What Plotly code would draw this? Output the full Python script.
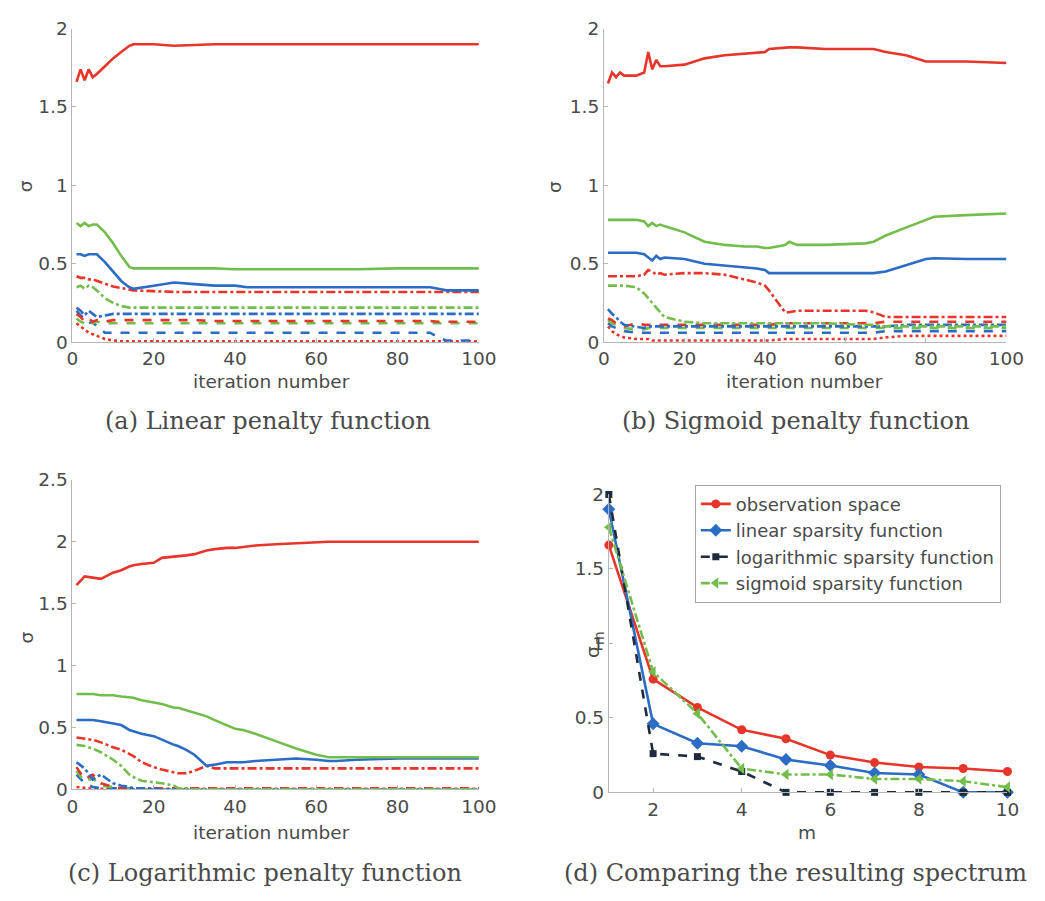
import plotly.graph_objects as go

# ---------------- data ----------------
# (a) Linear penalty function
a_iter = [1, 2, 3, 4, 5, 6, 8, 10, 12, 14, 15, 20, 25, 30, 35, 40, 43, 50, 60, 70, 80, 88, 90, 92, 100]
a_s1 = [1.66, 1.74, 1.67, 1.74, 1.69, 1.71, 1.76, 1.81, 1.85, 1.89, 1.90, 1.90, 1.89, 1.895, 1.90, 1.90, 1.90, 1.90, 1.90, 1.90, 1.90, 1.90, 1.90, 1.90, 1.90]
a_s2 = [0.76, 0.74, 0.76, 0.74, 0.75, 0.75, 0.70, 0.63, 0.55, 0.48, 0.47, 0.47, 0.47, 0.47, 0.47, 0.465, 0.465, 0.465, 0.465, 0.465, 0.47, 0.47, 0.47, 0.47, 0.47]
a_s3 = [0.56, 0.56, 0.55, 0.56, 0.56, 0.56, 0.51, 0.45, 0.39, 0.35, 0.34, 0.36, 0.38, 0.37, 0.36, 0.36, 0.35, 0.35, 0.35, 0.35, 0.35, 0.35, 0.34, 0.33, 0.33]
a_s4 = [0.42, 0.41, 0.41, 0.40, 0.40, 0.39, 0.37, 0.355, 0.345, 0.335, 0.33, 0.325, 0.32, 0.32, 0.32, 0.32, 0.32, 0.32, 0.32, 0.32, 0.32, 0.32, 0.32, 0.32, 0.32]
a_s5 = [0.35, 0.36, 0.34, 0.36, 0.35, 0.33, 0.28, 0.25, 0.23, 0.22, 0.22, 0.22, 0.22, 0.22, 0.22, 0.22, 0.22, 0.22, 0.22, 0.22, 0.22, 0.22, 0.22, 0.22, 0.22]
a_s6 = [0.22, 0.20, 0.17, 0.20, 0.18, 0.16, 0.17, 0.18, 0.18, 0.18, 0.18, 0.18, 0.18, 0.18, 0.18, 0.18, 0.18, 0.18, 0.18, 0.18, 0.18, 0.18, 0.18, 0.18, 0.18]
a_s7 = [0.18, 0.16, 0.13, 0.15, 0.13, 0.14, 0.13, 0.14, 0.14, 0.14, 0.14, 0.14, 0.14, 0.14, 0.135, 0.135, 0.135, 0.135, 0.135, 0.135, 0.135, 0.135, 0.13, 0.13, 0.13]
a_s8 = [0.15, 0.13, 0.12, 0.14, 0.12, 0.13, 0.12, 0.12, 0.12, 0.12, 0.12, 0.12, 0.12, 0.12, 0.12, 0.12, 0.12, 0.12, 0.12, 0.12, 0.12, 0.12, 0.12, 0.12, 0.12]
a_s9 = [0.20, 0.17, 0.15, 0.12, 0.13, 0.10, 0.06, 0.06, 0.06, 0.06, 0.06, 0.06, 0.06, 0.06, 0.06, 0.06, 0.06, 0.06, 0.06, 0.06, 0.06, 0.06, 0.03, 0.01, 0.01]
a_s10 = [0.12, 0.10, 0.08, 0.06, 0.05, 0.04, 0.02, 0.01, 0.005, 0.005, 0.005, 0.005, 0.005, 0.005, 0.005, 0.005, 0.005, 0.005, 0.005, 0.005, 0.005, 0.005, 0.005, 0.005, 0.005]

# (b) Sigmoid penalty function
b_iter = [1, 2, 3, 4, 5, 8, 10, 11, 12, 13, 14, 15, 20, 25, 30, 35, 38, 40, 41, 45, 46, 48, 55, 65, 67, 70, 75, 80, 82, 90, 100]
b_s1 = [1.65, 1.72, 1.69, 1.72, 1.70, 1.70, 1.72, 1.85, 1.74, 1.80, 1.76, 1.76, 1.77, 1.81, 1.83, 1.84, 1.85, 1.85, 1.87, 1.88, 1.88, 1.88, 1.87, 1.87, 1.87, 1.85, 1.83, 1.79, 1.79, 1.79, 1.78]
b_s2 = [0.78, 0.78, 0.78, 0.78, 0.78, 0.78, 0.77, 0.74, 0.76, 0.74, 0.75, 0.74, 0.70, 0.64, 0.62, 0.61, 0.61, 0.60, 0.60, 0.62, 0.64, 0.62, 0.62, 0.63, 0.64, 0.68, 0.73, 0.78, 0.80, 0.81, 0.82]
b_s3 = [0.57, 0.57, 0.57, 0.57, 0.57, 0.57, 0.56, 0.54, 0.52, 0.55, 0.53, 0.54, 0.53, 0.50, 0.49, 0.48, 0.47, 0.46, 0.44, 0.44, 0.44, 0.44, 0.44, 0.44, 0.44, 0.45, 0.49, 0.53, 0.535, 0.53, 0.53]
b_s4 = [0.42, 0.42, 0.42, 0.42, 0.42, 0.42, 0.43, 0.46, 0.45, 0.43, 0.44, 0.43, 0.44, 0.44, 0.43, 0.40, 0.38, 0.36, 0.33, 0.19, 0.19, 0.20, 0.20, 0.20, 0.19, 0.16, 0.16, 0.16, 0.16, 0.16, 0.16]
b_s5 = [0.36, 0.36, 0.36, 0.36, 0.36, 0.35, 0.31, 0.28, 0.25, 0.22, 0.19, 0.16, 0.13, 0.12, 0.12, 0.12, 0.12, 0.12, 0.12, 0.12, 0.12, 0.12, 0.12, 0.11, 0.11, 0.10, 0.10, 0.10, 0.10, 0.10, 0.10]
b_s6 = [0.21, 0.18, 0.16, 0.13, 0.11, 0.10, 0.09, 0.10, 0.10, 0.10, 0.10, 0.10, 0.10, 0.10, 0.10, 0.10, 0.10, 0.10, 0.10, 0.10, 0.10, 0.10, 0.10, 0.10, 0.10, 0.10, 0.11, 0.11, 0.11, 0.11, 0.11]
b_s7 = [0.15, 0.14, 0.12, 0.11, 0.10, 0.12, 0.11, 0.11, 0.11, 0.11, 0.11, 0.11, 0.11, 0.11, 0.11, 0.11, 0.11, 0.11, 0.11, 0.12, 0.12, 0.12, 0.12, 0.12, 0.12, 0.13, 0.13, 0.13, 0.13, 0.13, 0.13]
b_s8 = [0.14, 0.12, 0.11, 0.10, 0.09, 0.08, 0.08, 0.09, 0.09, 0.09, 0.09, 0.09, 0.09, 0.09, 0.09, 0.09, 0.09, 0.09, 0.09, 0.09, 0.09, 0.09, 0.09, 0.09, 0.09, 0.09, 0.09, 0.09, 0.09, 0.09, 0.09]
b_s9 = [0.12, 0.10, 0.09, 0.08, 0.07, 0.06, 0.06, 0.06, 0.06, 0.06, 0.06, 0.06, 0.06, 0.06, 0.06, 0.06, 0.06, 0.06, 0.06, 0.06, 0.06, 0.06, 0.06, 0.06, 0.06, 0.07, 0.07, 0.07, 0.07, 0.07, 0.07]
b_s10 = [0.10, 0.07, 0.05, 0.04, 0.03, 0.02, 0.02, 0.02, 0.01, 0.01, 0.01, 0.01, 0.01, 0.01, 0.01, 0.01, 0.01, 0.01, 0.01, 0.02, 0.02, 0.02, 0.02, 0.02, 0.02, 0.03, 0.04, 0.04, 0.04, 0.04, 0.04]

# (c) Logarithmic penalty function
c_iter = [1, 3, 5, 7, 10, 12, 14, 15, 17, 20, 22, 25, 26, 28, 30, 33, 35, 38, 40, 42, 45, 50, 55, 60, 63, 65, 70, 80, 90, 100]
c_s1 = [1.65, 1.72, 1.71, 1.70, 1.75, 1.77, 1.80, 1.81, 1.82, 1.83, 1.87, 1.88, 1.88, 1.89, 1.90, 1.93, 1.94, 1.95, 1.95, 1.96, 1.97, 1.98, 1.99, 2.00, 2.00, 2.00, 2.00, 2.00, 2.00, 2.00]
c_s2 = [0.77, 0.77, 0.77, 0.76, 0.76, 0.75, 0.74, 0.74, 0.72, 0.70, 0.69, 0.66, 0.66, 0.64, 0.62, 0.59, 0.56, 0.52, 0.49, 0.48, 0.45, 0.39, 0.33, 0.28, 0.26, 0.26, 0.26, 0.26, 0.26, 0.26]
c_s3 = [0.56, 0.56, 0.56, 0.55, 0.53, 0.52, 0.48, 0.47, 0.45, 0.43, 0.40, 0.36, 0.35, 0.32, 0.28, 0.19, 0.20, 0.22, 0.22, 0.22, 0.23, 0.24, 0.25, 0.24, 0.23, 0.23, 0.24, 0.25, 0.25, 0.25]
c_s4 = [0.42, 0.41, 0.40, 0.38, 0.34, 0.32, 0.29, 0.27, 0.22, 0.18, 0.16, 0.14, 0.13, 0.13, 0.15, 0.19, 0.17, 0.17, 0.17, 0.17, 0.17, 0.17, 0.17, 0.17, 0.17, 0.17, 0.17, 0.17, 0.17, 0.17]
c_s5 = [0.36, 0.35, 0.33, 0.30, 0.24, 0.19, 0.12, 0.10, 0.07, 0.06, 0.05, 0.03, 0.01, 0.01, 0.00, 0.00, 0.00, 0.00, 0.00, 0.00, 0.00, 0.00, 0.00, 0.00, 0.00, 0.00, 0.00, 0.00, 0.00, 0.00]
c_s6 = [0.22, 0.17, 0.08, 0.12, 0.05, 0.03, 0.02, 0.01, 0.01, 0.01, 0.00, 0.00, 0.00, 0.00, 0.00, 0.00, 0.00, 0.00, 0.00, 0.00, 0.00, 0.00, 0.00, 0.00, 0.00, 0.00, 0.00, 0.00, 0.00, 0.00]
c_s7 = [0.18, 0.08, 0.12, 0.05, 0.02, 0.01, 0.01, 0.01, 0.01, 0.01, 0.01, 0.01, 0.01, 0.01, 0.01, 0.01, 0.01, 0.01, 0.01, 0.01, 0.01, 0.01, 0.01, 0.01, 0.01, 0.01, 0.01, 0.01, 0.01, 0.01]
c_s8 = [0.15, 0.06, 0.09, 0.03, 0.02, 0.01, 0.00, 0.00, 0.00, 0.00, 0.00, 0.00, 0.00, 0.00, 0.00, 0.00, 0.00, 0.00, 0.00, 0.00, 0.00, 0.00, 0.00, 0.00, 0.00, 0.00, 0.00, 0.00, 0.00, 0.00]
c_s9 = [0.12, 0.05, 0.02, 0.01, 0.01, 0.01, 0.01, 0.00, 0.00, 0.00, 0.00, 0.00, 0.00, 0.00, 0.00, 0.00, 0.00, 0.00, 0.00, 0.00, 0.00, 0.00, 0.00, 0.00, 0.00, 0.00, 0.00, 0.00, 0.00, 0.00]
c_s10 = [0.02, 0.01, 0.005, 0.005, 0.005, 0.005, 0.005, 0.005, 0.005, 0.005, 0.005, 0.005, 0.005, 0.005, 0.005, 0.005, 0.005, 0.005, 0.005, 0.005, 0.005, 0.005, 0.005, 0.005, 0.005, 0.005, 0.005, 0.005, 0.005, 0.005]

# (d) Comparing the resulting spectrum
d_m = [1, 2, 3, 4, 5, 6, 7, 8, 9, 10]
d_observation = [1.66, 0.76, 0.57, 0.42, 0.36, 0.25, 0.20, 0.17, 0.16, 0.14]
d_linear = [1.90, 0.46, 0.33, 0.31, 0.22, 0.18, 0.13, 0.12, 0.00, 0.00]
d_logarithmic = [2.00, 0.26, 0.24, 0.14, 0.00, 0.00, 0.00, 0.00, 0.00, 0.00]
d_sigmoid = [1.78, 0.81, 0.53, 0.16, 0.12, 0.12, 0.09, 0.09, 0.075, 0.035]

legend_names = ["observation space", "linear sparsity function",
                "logarithmic sparsity function", "sigmoid sparsity function"]
iter_ticks = [0, 20, 40, 60, 80, 100]

# ---------------- styles ----------------
RED = "#e8352a"
GREEN = "#72bd4c"
BLUE = "#2b6cc4"
NAVY = "#1f2b3d"
series_colors = [RED, GREEN, BLUE, RED, GREEN, BLUE, RED, GREEN, BLUE, RED]
series_dash = ["solid", "solid", "solid", "dashdot", "dashdot", "dashdot",
               "dash", "dash", "dash", "dot"]

W, H = 1045, 901
SANS = "DejaVu Sans"
SERIF = "DejaVu Serif"
TXT = "#4a4a4a"
AXC = "#b5b5b5"
FS = 18.5


def px(x):
    return x / W


def py(y):
    return 1 - y / H


fig = go.Figure()

panels = [
    ("x", "y", a_iter, [a_s1, a_s2, a_s3, a_s4, a_s5, a_s6, a_s7, a_s8, a_s9, a_s10]),
    ("x2", "y2", b_iter, [b_s1, b_s2, b_s3, b_s4, b_s5, b_s6, b_s7, b_s8, b_s9, b_s10]),
    ("x3", "y3", c_iter, [c_s1, c_s2, c_s3, c_s4, c_s5, c_s6, c_s7, c_s8, c_s9, c_s10]),
]
for xr, yr, xs, series in panels:
    # draw lower-index series last so main curves stay on top
    for i in reversed(range(len(series))):
        fig.add_trace(go.Scatter(
            x=xs, y=series[i], mode="lines", xaxis=xr, yaxis=yr,
            showlegend=False,
            line=dict(color=series_colors[i], width=2.6, dash=series_dash[i]),
        ))

d_series = [
    (d_observation, RED, "solid", "circle", 9),
    (d_linear, BLUE, "solid", "diamond", 10),
    (d_logarithmic, NAVY, "dash", "square", 7),
    (d_sigmoid, GREEN, "dashdot", "triangle-left", 10),
]
for (ys, col, dash, sym, size), name in zip(d_series, legend_names):
    fig.add_trace(go.Scatter(
        x=d_m, y=ys, mode="lines+markers", xaxis="x4", yaxis="y4", name=name,
        line=dict(color=col, width=2.6, dash=dash),
        marker=dict(symbol=sym, size=size, color=col),
        cliponaxis=False,
    ))

axis_common = dict(
    showline=True, linecolor=AXC, linewidth=1, showgrid=False, zeroline=False,
    ticks="inside", ticklen=4, tickcolor=AXC, mirror=False,
    tickfont=dict(family=SANS, size=FS, color=TXT),
)

dom_ax = [px(68), px(484)]
dom_bx = [px(612), px(1024)]
dom_dx = [px(617), px(1025)]
dom_top_y = [py(339), py(18)]
dom_c_y = [py(797), py(480)]
dom_d_y = [py(800), py(495)]

fig.update_layout(
    width=W, height=H, margin=dict(l=0, r=0, t=0, b=0),
    paper_bgcolor="white", plot_bgcolor="white",
    xaxis=dict(domain=dom_ax, range=[0, 100], tickvals=iter_ticks, anchor="y", **axis_common),
    yaxis=dict(domain=dom_top_y, range=[0, 2], tickvals=[0, 0.5, 1, 1.5, 2], anchor="x", **axis_common),
    xaxis2=dict(domain=dom_bx, range=[0, 100], tickvals=iter_ticks, anchor="y2", **axis_common),
    yaxis2=dict(domain=dom_top_y, range=[0, 2], tickvals=[0, 0.5, 1, 1.5, 2], anchor="x2", **axis_common),
    xaxis3=dict(domain=dom_ax, range=[0, 100], tickvals=iter_ticks, anchor="y3", **axis_common),
    yaxis3=dict(domain=dom_c_y, range=[0, 2.5], tickvals=[0, 0.5, 1, 1.5, 2, 2.5], anchor="x3", **axis_common),
    xaxis4=dict(domain=dom_dx, range=[1, 10], tickvals=[2, 4, 6, 8, 10], anchor="y4", **axis_common),
    yaxis4=dict(domain=dom_d_y, range=[0, 2], tickvals=[0, 0.5, 1, 1.5, 2], anchor="x4", **axis_common),
    legend=dict(
        x=px(705), y=py(485), xanchor="left", yanchor="top",
        bgcolor="white", bordercolor="#a8a8a8", borderwidth=1,
        font=dict(family=SANS, size=18, color=TXT),
        itemwidth=30, tracegroupgap=0,
    ),
    showlegend=True,
)

annotations = []


def label(text, x, y, size=FS, family=SANS, angle=0):
    annotations.append(dict(
        text=text, x=px(x), y=py(y), xref="paper", yref="paper",
        xanchor="center", yanchor="middle", showarrow=False, textangle=angle,
        font=dict(family=family, size=size, color=TXT),
    ))


label("σ", 20, 180, angle=-90)
label("σ", 562, 180, angle=-90)
label("σ", 20, 642, angle=-90)
# σ_m : sigma with a subscript m (rotated, reading bottom to top)
label("σ", 601, 656, angle=-90)
label("m", 607, 642, size=14, angle=-90)
label("iteration number", 272, 379)
label("iteration number", 817, 379)
label("iteration number", 272, 841)
label("m", 820, 841)
label("(a) Linear penalty function", 268, 420, size=24, family=SERIF)
label("(b) Sigmoid penalty function", 808, 420, size=24, family=SERIF)
label("(c) Logarithmic penalty function", 265, 883, size=24, family=SERIF)
label("(d) Comparing the resulting spectrum", 808, 883, size=24, family=SERIF)

fig.update_layout(annotations=annotations)

fig.write_html("out.html")
